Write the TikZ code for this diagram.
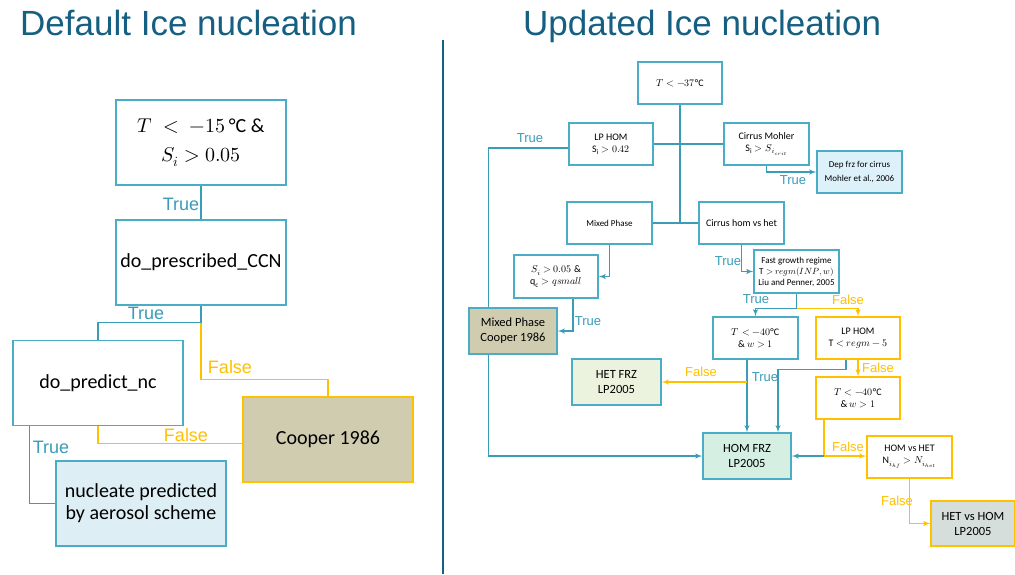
\documentclass[tikz,border=0pt]{standalone}
\usepackage{unicode-math}
\setmainfont{Carlito}
\setmathfont{Latin Modern Math}
\newfontfamily\labelfont{Liberation Sans}
\usetikzlibrary{calc,arrows,positioning}
\definecolor{titleblue}{HTML}{156082}
\definecolor{boxblue}{HTML}{4BACC6}
\definecolor{lineblue}{HTML}{3B9CB8}
\definecolor{gold}{HTML}{FFC000}
\definecolor{tan}{HTML}{D0CCB0}
\definecolor{paleblue}{HTML}{DDEEF5}
\definecolor{skyblue}{HTML}{DDF1FA}
\definecolor{mint}{HTML}{D5F0E3}
\definecolor{palegreen}{HTML}{EBF3DE}
\definecolor{greygreen}{HTML}{D5DEDA}
\tikzstyle{box} = [draw=boxblue,line width=1.5pt,fill=white,inner sep=0pt,align=center]
\tikzstyle{bigbox} = [box,minimum width=170pt,minimum height=85pt,font=\fontsize{20}{22}\selectfont]
\tikzstyle{smallbox} = [box,minimum width=85pt,minimum height=42pt,font=\fontsize{10}{12}\selectfont]
\tikzstyle{goldbox} = [smallbox,draw=gold]
\tikzstyle{yes} = [draw=lineblue,line width=1.4pt]
\tikzstyle{no} = [draw=gold,line width=1.4pt]
\tikzstyle{yestext} = [text=lineblue,inner sep=0pt,font=\labelfont\fontsize{18}{18}\selectfont]
\tikzstyle{notext} = [yestext,text=gold]
\tikzstyle{smallyes} = [yestext,font=\labelfont\fontsize{13}{13}\selectfont]
\tikzstyle{smallno} = [smallyes,text=gold]
\tikzstyle{heading} = [text=titleblue,inner sep=0pt,font=\labelfont\fontsize{35}{35}\selectfont]
\pgfdeclarelayer{background}
\pgfsetlayers{background,main}

\begin{document}
\begin{tikzpicture}[x=1pt,y=-1pt,>=latex']
\begin{pgfonlayer}{background}
\fill[white] (0,0) rectangle (1015,574);
\end{pgfonlayer}
\useasboundingbox (0,0) rectangle (1015,574);

%%% Titles and divider
\node[heading,anchor=base west] (deftitle) at (20,35) {Default Ice nucleation};
\node[heading,anchor=base west] (newtitle) at (523,35) {Updated Ice nucleation};
\draw[titleblue,line width=1.5pt] (443,40) -- (443,574);

%%% Default scheme
\node[bigbox,font=\fontsize{20}{29}\selectfont] at (201,142.5) (cond) {$T\;<\;-15$\,°C \&\\$S_i > 0.05$};
\node[bigbox] at (201,262.5) (ccn) {do\_prescribed\_CCN};
\node[bigbox] at (98,383) (predict) {do\_predict\_nc};
\node[bigbox,draw=gold,line width=2pt,fill=tan] at (328,439.5) (cooper) {Cooper 1986};
\node[bigbox,fill=paleblue] at (141,503.5) (nucl) {nucleate predicted\\by aerosol scheme};

\begin{pgfonlayer}{background}
\draw[yes] (cond) -- (ccn);
\coordinate (lj) at ($(ccn.south)+(0,17)$);
\draw[yes] (ccn.south) -- (lj) -| (predict.north);
\draw[no] (lj) -- ++(0,57) -| (cooper.north);
\draw[no] (predict.south) |- ($(cooper.west)+(0,4)$);
\draw[yes] ($(predict.south west)!0.1!(predict.south east)$) |- (nucl.west);
\end{pgfonlayer}
\node[yestext] (ltrue1) at (181,204) {True};
\node[yestext] (ltrue2) at (146,313) {True};
\node[notext] (lfalse1) at (230,367) {False};
\node[notext] (lfalse2) at (186,435) {False};
\node[yestext] (ltrue3) at (51,447) {True};

%%% Updated scheme
\node[smallbox,minimum width=84pt] at (680,83) (t37) {$T < -37$°C};
\node[smallbox,minimum width=84pt] at (611,144) (lphom) {LP HOM\\$\mathrm{S_i} > 0.42$};
\node[smallbox] at (766.5,144) (mohler) {Cirrus Mohler\\$\mathrm{S_i} > S_{i_{crit}}$};
\node[smallbox,fill=skyblue,font=\fontsize{9}{14}\selectfont] at (859.5,172) (depfrz) {Dep frz for cirrus\\Mohler et al., 2006};
\node[smallbox,font=\fontsize{9}{11}\selectfont] at (609.5,223) (mixed) {Mixed Phase};
\node[smallbox] at (741.5,223) (cirrus) {Cirrus hom vs het};
\node[smallbox,minimum width=84pt,minimum height=43pt] at (556,276.5) (simix) {$S_i > 0.05$ \&\\$\mathrm{q_c} > qsmall$};
\node[smallbox,minimum width=88pt,minimum height=46pt,fill=tan,font=\fontsize{12.5}{15}\selectfont] at (513,331) (mpcooper) {Mixed Phase\\Cooper 1986};
\node[smallbox,minimum height=43pt,font=\fontsize{9}{11}\selectfont] at (796.5,271.5) (fast) {Fast growth regime\\$\mathrm{T} > regm(INP,w)$\\Liu and Penner, 2005};
\node[smallbox] at (755.5,338) (t40a) {$T < -40$°C\\\& $w > 1$};
\node[goldbox,minimum width=84pt] at (858,338) (lphom2) {LP HOM\\$\mathrm{T} < regm - 5$};
\node[smallbox,minimum width=89pt,minimum height=46pt,fill=palegreen,font=\fontsize{12.5}{15}\selectfont] at (616.5,382) (hetfrz) {HET FRZ\\LP2005};
\node[goldbox,minimum width=84pt] at (858,398) (t40b) {$T < -40$°C\\\& $w > 1$};
\node[smallbox,minimum width=88pt,minimum height=46pt,fill=mint,font=\fontsize{12.5}{15}\selectfont] at (747,456) (homfrz) {HOM FRZ\\LP2005};
\node[goldbox] at (909.5,457) (homhet) {HOM vs HET\\$\mathrm{N}_{i_{hf}} > N_{i_{het}}$};
\node[goldbox,minimum width=84pt,minimum height=45pt,fill=greygreen,font=\fontsize{12.5}{15}\selectfont] at (973,523.5) (hethom) {HET vs HOM\\LP2005};

\begin{pgfonlayer}{background}
\draw[yes] (t37) -- (t37.south |- cirrus.west);
\draw[yes] (lphom.east) -- (mohler.west);
\draw[yes] (mixed.east) -- (cirrus.west);
\draw[yes,->] ($(lphom.west)+(0,4)$) -- ++(-80,0) |- (homfrz.west);
\draw[yes,->] (mohler.south) |- (depfrz.west);
\draw[yes,->] (mixed.south) |- (simix.east);
\draw[yes,->] ($(simix.south)+(17,0)$) |- (mpcooper.east);
\draw[yes,->] (cirrus.south) |- (fast.west);
\coordinate (fj) at ($(fast.south)+(0,15)$);
\draw[yes,->] (fast.south) -- (fj) -| (t40a.north);
\draw[no,->] (fj) -| (lphom2.north);
\draw[yes,->] (t40a.south -| homfrz.north) -- (homfrz.north);
\draw[no,->] (homfrz.north |- hetfrz.east) -- (hetfrz.east);
\draw[yes,->] ($(lphom2.south)+(-12,0)$) -- ++(0,10) -| ($(homfrz.north)+(31,0)$);
\draw[no,->] (lphom2) -- (t40b);
\coordinate (bj0) at ($(t40b.south)+(-34,0)$);
\coordinate (bj) at (bj0 |- homfrz.east);
\draw[no] (bj0) -- (bj);
\draw[yes,->] (bj) -- (homfrz.east);
\draw[no,->] (bj) -- (bj -| homhet.west);
\draw[no,->] (homhet.south) |- (hethom.west);
\end{pgfonlayer}
\node[smallyes] (rtrue1) at (530,138) {True};
\node[smallyes] (rtrue2) at (793,180) {True};
\node[smallyes] (rtrue3) at (588,321) {True};
\node[smallyes] (rtrue4) at (728,261) {True};
\node[smallyes] (rtrue5) at (756,299) {True};
\node[smallno] (rfalse1) at (848,300) {False};
\node[smallno] (rfalse2) at (701,372) {False};
\node[smallyes] (rtrue6) at (765,377) {True};
\node[smallno] (rfalse3) at (878,368) {False};
\node[smallno] (rfalse4) at (848,447) {False};
\node[smallno] (rfalse5) at (897,501) {False};
\end{tikzpicture}
\end{document}
